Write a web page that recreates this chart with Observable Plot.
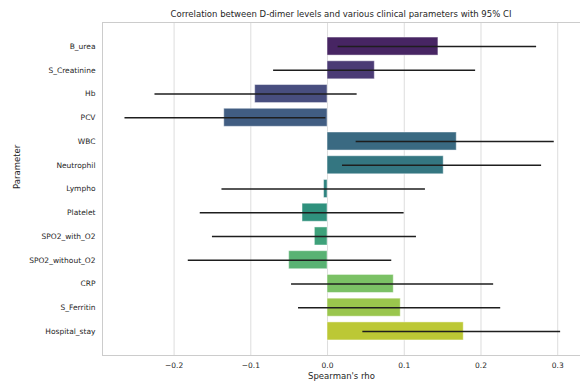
<!DOCTYPE html>
<html>
<head>
<meta charset="utf-8">
<script src="https://cdn.jsdelivr.net/npm/d3@7"></script>
<script src="https://cdn.jsdelivr.net/npm/@observablehq/plot@0.6"></script>
<style>
  html, body { margin: 0; padding: 0; background: white; }
  #wrap { width: 580px; height: 381px; position: relative; overflow: hidden; font-family: "DejaVu Sans", sans-serif; }
  #title { height: 21px; width: 580px; position: relative; }
  #title span { position: absolute; left: 341px; top: 9px; transform: translate(-50%, 0); white-space: nowrap;
    font-size: 8.5px; color: #262626; line-height: 10px; }
</style>
</head>
<body>
<div id="wrap">
  <div id="title"><span>Correlation between D-dimer levels and various clinical parameters with 95% CI</span></div>
  <div id="chart"></div>
</div>
<script>
const params = ["B_urea", "S_Creatinine", "Hb", "PCV", "WBC", "Neutrophil", "Lympho", "Platelet",
  "SPO2_with_O2", "SPO2_without_O2", "CRP", "S_Ferritin", "Hospital_stay"];
const rho    = [0.1445, 0.0616, -0.0943, -0.1346, 0.1684, 0.1514, -0.0045, -0.0326, -0.0165, -0.0500, 0.0863, 0.0954, 0.1775];
const ciLow  = [0.0138, -0.0703, -0.2249, -0.2640, 0.0373, 0.0195, -0.1376, -0.1659, -0.1500, -0.1815, -0.0469, -0.0378, 0.0460];
const ciHigh = [0.2725, 0.1930, 0.0386, -0.0022, 0.2955, 0.2790, 0.1276, 0.0998, 0.1159, 0.0837, 0.2165, 0.2257, 0.3038];
const xTicks = [-0.2, -0.1, 0.0, 0.1, 0.2, 0.3];

const rows = params.map((p, i) => ({param: p, rho: rho[i], lo: ciLow[i], hi: ciHigh[i]}));

// seaborn-like viridis palette (n colours, desaturated to 0.75)
const n = params.length;
const palette = params.map((_, i) => {
  const c = d3.hsl(d3.interpolateViridis((i + 1) / (n + 1)));
  c.s *= 0.75;
  return c.formatHex();
});

const xMin = -0.2933, xMax = 0.3297;
const fmt = d3.format(".1f");

const chart = Plot.plot({
  width: 580,
  height: 360,
  marginLeft: 102,
  marginRight: 0,
  marginTop: 1,
  marginBottom: 26,
  style: {fontFamily: "DejaVu Sans, sans-serif", fontSize: "7.5px", color: "#262626", background: "white", overflow: "visible"},
  x: {domain: [xMin, xMax]},
  y: {domain: params, paddingInner: 0.24, paddingOuter: 0.634, round: false},
  color: {domain: params, range: palette},
  marks: [
    Plot.gridX(xTicks, {stroke: "#dddddd", strokeOpacity: 1, strokeWidth: 1}),
    Plot.frame({anchor: "left", stroke: "#cccccc", strokeWidth: 1}),
    Plot.frame({anchor: "top", stroke: "#cccccc", strokeWidth: 1}),
    Plot.frame({anchor: "bottom", stroke: "#cccccc", strokeWidth: 1}),
    Plot.barX(rows, {y: "param", x1: 0, x2: "rho", fill: "param", stroke: "white", strokeOpacity: 0.45, strokeWidth: 1}),
    Plot.ruleY(rows, {y: "param", x1: "lo", x2: "hi", stroke: "#1e1e1e", strokeWidth: 1.5}),
    Plot.axisX({ticks: xTicks, tickSize: 0, tickPadding: 7, label: null, tickFormat: d => fmt(d), fill: "#262626"}),
    Plot.axisY({tickSize: 0, tickPadding: 7, label: null, fill: "#262626"}),
    Plot.text(["Spearman's rho"], {frameAnchor: "bottom", dy: 23, fontSize: 8.5, fill: "#262626"}),
    Plot.text(["Parameter"], {frameAnchor: "left", dx: -85, rotate: -90, fontSize: 8.5, fill: "#262626"})
  ]
});
document.getElementById("chart").appendChild(chart);
</script>
</body>
</html>
